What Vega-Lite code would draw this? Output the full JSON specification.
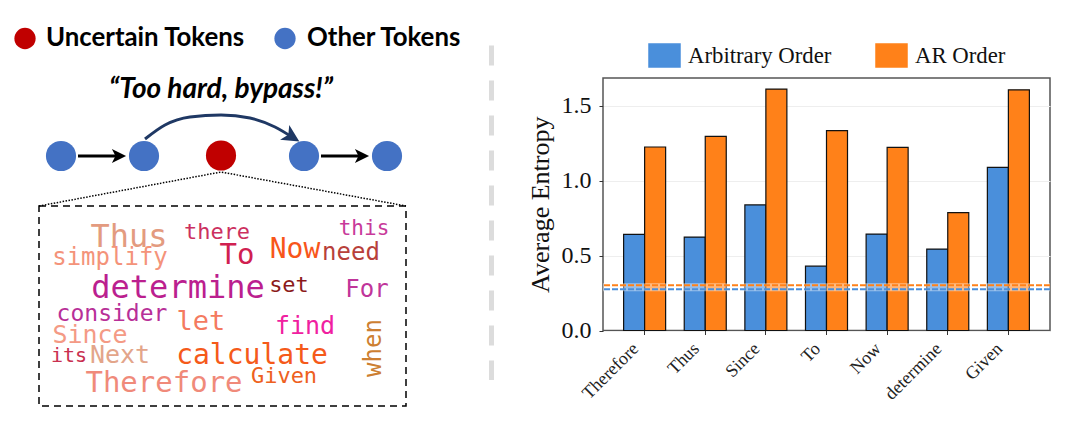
{
  "$schema": "https://vega.github.io/schema/vega-lite/v6.json",
  "padding": {"top": -7, "left": 0, "right": 0, "bottom": 0},
  "spacing": 0,
  "background": "white",
  "config": {"view": {"stroke": null}},
  "resolve": {"scale": {"color": "independent", "size": "independent", "fill": "independent"}, "legend": {"color": "independent"}},
  "datasets": {
    "entropy": [
      {"token": "Therefore", "order": "Arbitrary Order", "value": 0.642},
      {"token": "Therefore", "order": "AR Order", "value": 1.226},
      {"token": "Thus", "order": "Arbitrary Order", "value": 0.624},
      {"token": "Thus", "order": "AR Order", "value": 1.297},
      {"token": "Since", "order": "Arbitrary Order", "value": 0.839},
      {"token": "Since", "order": "AR Order", "value": 1.613},
      {"token": "To", "order": "Arbitrary Order", "value": 0.43},
      {"token": "To", "order": "AR Order", "value": 1.336},
      {"token": "Now", "order": "Arbitrary Order", "value": 0.644},
      {"token": "Now", "order": "AR Order", "value": 1.224},
      {"token": "determine", "order": "Arbitrary Order", "value": 0.544},
      {"token": "determine", "order": "AR Order", "value": 0.787},
      {"token": "Given", "order": "Arbitrary Order", "value": 1.09},
      {"token": "Given", "order": "AR Order", "value": 1.608}
    ],
    "average": [
      {"order": "Arbitrary Order", "value": 0.275},
      {"order": "AR Order", "value": 0.302}
    ],
    "words": [
      {"word": "Thus", "x": 129, "y": 247, "weight": 32},
      {"word": "there", "x": 217, "y": 239, "weight": 22},
      {"word": "this", "x": 364, "y": 235, "weight": 21},
      {"word": "To", "x": 237, "y": 264, "weight": 29},
      {"word": "Now", "x": 295, "y": 258, "weight": 28},
      {"word": "need", "x": 351, "y": 260, "weight": 24},
      {"word": "simplify", "x": 110, "y": 265, "weight": 24},
      {"word": "determine", "x": 178, "y": 298, "weight": 32},
      {"word": "set", "x": 289, "y": 292, "weight": 22},
      {"word": "For", "x": 367, "y": 297, "weight": 24},
      {"word": "consider", "x": 112, "y": 321, "weight": 23},
      {"word": "let", "x": 201, "y": 330, "weight": 27},
      {"word": "find", "x": 305, "y": 334, "weight": 25},
      {"word": "when", "x": 381, "y": 348, "weight": 24},
      {"word": "Since", "x": 90, "y": 343, "weight": 25},
      {"word": "its", "x": 69, "y": 362, "weight": 20},
      {"word": "Next", "x": 120, "y": 363, "weight": 25},
      {"word": "calculate", "x": 252, "y": 364, "weight": 28},
      {"word": "Therefore", "x": 164, "y": 392, "weight": 29},
      {"word": "Given", "x": 284, "y": 383, "weight": 22}
    ]
  },
  "hconcat": [
    {
      "width": 526,
      "height": 351,
      "encoding": {
        "x": {"field": "x", "type": "quantitative", "scale": {"domain": [0, 526], "nice": false}, "axis": null},
        "y": {"field": "y", "type": "quantitative", "scale": {"domain": [429, 78], "nice": false}, "axis": null}
      },
      "layer": [
        {
          "data": {"values": [{"x": 491.5, "y": 45.5, "y2": 380}]},
          "mark": {"type": "rule", "color": "#dcdcdc", "strokeWidth": 5, "strokeDash": [20, 15]},
          "encoding": {"y2": {"field": "y2"}}
        },
        {
          "data": {"values": [
            {"x": 25, "y": 38.5, "kind": "Uncertain"},
            {"x": 285, "y": 38.5, "kind": "Other"}
          ]},
          "mark": {"type": "point", "filled": true, "opacity": 1, "size": 452},
          "encoding": {
            "fill": {"field": "kind", "type": "nominal", "scale": {"domain": ["Uncertain", "Other"], "range": ["#C00000", "#4472C4"]}, "legend": null}
          }
        },
        {
          "data": {"values": [
            {"x": 46, "y": 46, "label": "Uncertain Tokens"},
            {"x": 307, "y": 46, "label": "Other Tokens"}
          ]},
          "mark": {"type": "text", "align": "left", "baseline": "alphabetic", "font": "Lato", "fontWeight": "bold", "fontSize": 25.8, "color": "black"},
          "encoding": {"text": {"field": "label"}}
        },
        {
          "data": {"values": [{"x": 221, "y": 98, "label": "“Too hard, bypass!”"}]},
          "mark": {"type": "text", "align": "center", "baseline": "alphabetic", "font": "Lato", "fontWeight": "bold", "fontStyle": "italic", "fontSize": 28, "color": "black"},
          "encoding": {"text": {"field": "label"}}
        },
        {
          "data": {"values": [
            {"x": 145, "y": 139}, {"x": 165, "y": 125}, {"x": 190, "y": 117}, {"x": 221, "y": 115},
            {"x": 250, "y": 118}, {"x": 275, "y": 127}, {"x": 295, "y": 139}
          ]},
          "mark": {"type": "line", "color": "#1f3864", "strokeWidth": 3, "interpolate": "monotone"}
        },
        {
          "data": {"values": [{"x": 292, "y": 137}]},
          "mark": {"type": "point", "shape": "M-1,-1L1,0L-1,1L-0.5,0Z", "filled": true, "opacity": 1, "color": "#1f3864", "size": 300, "angle": 32}
        },
        {
          "data": {"values": [
            {"x": 78, "x2": 118, "y": 156},
            {"x": 321, "x2": 361, "y": 156}
          ]},
          "mark": {"type": "rule", "color": "black", "strokeWidth": 3},
          "encoding": {"x2": {"field": "x2"}}
        },
        {
          "data": {"values": [{"x": 119, "y": 156}, {"x": 362, "y": 156}]},
          "mark": {"type": "point", "shape": "M-1,-1L1,0L-1,1L-0.5,0Z", "filled": true, "opacity": 1, "color": "black", "size": 200}
        },
        {
          "data": {"values": [
            {"x": 61, "y": 156, "kind": "Other"},
            {"x": 144, "y": 156, "kind": "Other"},
            {"x": 221, "y": 155.5, "kind": "Uncertain"},
            {"x": 304, "y": 156, "kind": "Other"},
            {"x": 387, "y": 156, "kind": "Other"}
          ]},
          "mark": {"type": "point", "filled": true, "opacity": 1, "size": 908},
          "encoding": {
            "fill": {"field": "kind", "type": "nominal", "legend": null}
          }
        },
        {
          "data": {"values": [
            {"x": 39, "y": 206}, {"x": 221, "y": 172}, {"x": 406, "y": 206}
          ]},
          "mark": {"type": "line", "color": "black", "strokeWidth": 1.5, "strokeDash": [1.5, 1.5]}
        },
        {
          "data": {"values": [{"x": 39, "x2": 406, "y": 206, "y2": 406}]},
          "mark": {"type": "rect", "fill": null, "stroke": "black", "strokeWidth": 1.5, "strokeDash": [7, 5]},
          "encoding": {"x2": {"field": "x2"}, "y2": {"field": "y2"}}
        },
        {
          "data": {"name": "words"},
          "transform": [{"filter": "datum.word !== 'when'"}],
          "mark": {"type": "text", "font": "DejaVu Sans Mono", "align": "center", "baseline": "alphabetic"},
          "encoding": {
            "text": {"field": "word"},
            "size": {"field": "weight", "type": "quantitative", "scale": {"domain": [20, 32], "range": [20, 32]}, "legend": null},
            "color": {
              "field": "word",
              "type": "nominal",
              "legend": null,
              "scale": {
                "domain": ["Thus", "there", "this", "To", "Now", "need", "simplify", "determine", "set", "For", "consider", "let", "find", "when", "Since", "its", "Next", "calculate", "Therefore", "Given"],
                "range": ["#e39b80", "#cc3060", "#c83a9a", "#d02050", "#f8561a", "#b8403a", "#f4937a", "#bb1f8f", "#8b1a1a", "#c0359a", "#b82f98", "#f47a60", "#f020a0", "#cd7f32", "#f49a85", "#c93050", "#e3a58a", "#f55a1a", "#f08a7a", "#ee6020"]
              }
            }
          }
        },
        {
          "data": {"name": "words"},
          "transform": [{"filter": "datum.word === 'when'"}],
          "mark": {"type": "text", "font": "DejaVu Sans Mono", "align": "center", "baseline": "alphabetic", "angle": 270},
          "encoding": {
            "text": {"field": "word"},
            "size": {"field": "weight", "type": "quantitative", "legend": null},
            "color": {"field": "word", "type": "nominal", "legend": null}
          }
        }
      ]
    },
    {
      "width": 447,
      "height": 252.5,
      "view": {"stroke": "#555555", "strokeWidth": 1.5},
      "layer": [
        {
          "data": {"name": "entropy"},
          "mark": {"type": "bar", "stroke": "#111111", "strokeWidth": 1.2},
          "encoding": {
            "x": {
              "field": "token",
              "type": "nominal",
              "sort": ["Therefore", "Thus", "Since", "To", "Now", "determine", "Given"],
              "title": null,
              "scale": {"paddingInner": 0.307, "paddingOuter": 0.34},
              "axis": {
                "labelAngle": -45,
                "labelAlign": "right",
                "labelBaseline": "top",
                "labelFont": "Liberation Serif",
                "labelFontSize": 18,
                "labelColor": "#222222",
                "labelPadding": 5,
                "labelOffset": -15,
                "tickColor": "#333333",
                "tickSize": 4,
                "domain": false
              }
            },
            "xOffset": {"field": "order", "type": "nominal", "scale": {"domain": ["Arbitrary Order", "AR Order"], "paddingInner": 0, "paddingOuter": 0}},
            "y": {
              "field": "value",
              "type": "quantitative",
              "title": "Average Entropy",
              "scale": {"domain": [0, 1.687], "nice": false},
              "axis": {
                "values": [0, 0.5, 1, 1.5],
                "format": ".1f",
                "labelFont": "Liberation Serif",
                "labelFontSize": 24,
                "labelColor": "#111111",
                "labelPadding": 8,
                "titleFont": "Liberation Serif",
                "titleFontSize": 26,
                "titleFontWeight": "normal",
                "titleColor": "#111111",
                "titlePadding": 8,
                "tickColor": "#333333",
                "tickSize": 4,
                "domain": false,
                "grid": true,
                "gridColor": "#eeeeee"
              }
            },
            "color": {
              "field": "order",
              "type": "nominal",
              "scale": {"domain": ["Arbitrary Order", "AR Order"], "range": ["#4A8FDB", "#FF8119"]},
              "legend": {
                "orient": "top",
                "title": null,
                "direction": "horizontal",
                "padding": 45,
                "offset": -37,
                "symbolType": "M-1,-0.74H1V0.74H-1Z",
                "symbolSize": 961,
                "symbolStrokeColor": "#111111",
                "symbolStrokeWidth": 1.5,
                "labelFont": "Liberation Serif",
                "labelFontSize": 22.75,
                "labelColor": "#111111",
                "labelLimit": 300,
                "labelOffset": 7,
                "columnPadding": 41
              }
            }
          }
        },
        {
          "data": {"name": "average"},
          "mark": {"type": "rule", "color": "white", "strokeWidth": 4, "opacity": 0.45},
          "encoding": {"y": {"field": "value", "type": "quantitative"}}
        },
        {
          "data": {"name": "average"},
          "mark": {"type": "rule", "strokeWidth": 2, "strokeDash": [6, 2]},
          "encoding": {
            "y": {"field": "value", "type": "quantitative"},
            "color": {"field": "order", "type": "nominal", "legend": null}
          }
        }
      ]
    }
  ]
}
